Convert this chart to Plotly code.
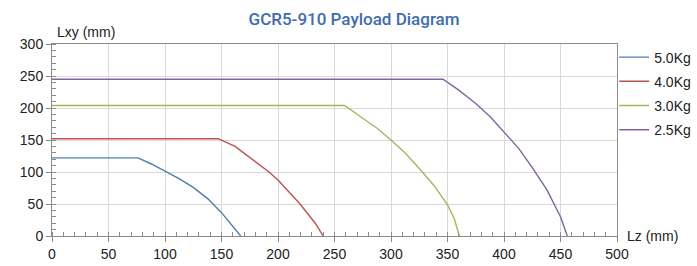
import plotly.graph_objects as go

# Data
series_names = ["5.0Kg", "4.0Kg", "3.0Kg", "2.5Kg"]
lz_50 = [0, 76, 88, 100, 112, 125, 138, 150, 160, 167]
lxy_50 = [122, 122, 112.5, 101.5, 90, 76, 58, 36.5, 15, 0]
lz_40 = [0, 147, 162, 175, 192, 200, 219.5, 233, 240]
lxy_40 = [152, 152, 140, 123, 100, 87.5, 50, 20, 0]
lz_30 = [0, 259, 275, 288, 300, 313, 325, 338, 350, 356, 360.5]
lxy_30 = [204, 204, 184, 168, 150, 129, 105.5, 79, 48.5, 27, 0]
lz_25 = [0, 346, 360, 375, 388, 400, 413, 425, 438, 450, 456]
lxy_25 = [245, 245, 228, 207, 186, 163, 137, 107, 72, 30, 0]
colors = ["#4a7ebb", "#c0504d", "#9bbb59", "#8064a2"]

x_ticks = [0, 50, 100, 150, 200, 250, 300, 350, 400, 450, 500]
y_ticks = [0, 50, 100, 150, 200, 250, 300]

xs = [lz_50, lz_40, lz_30, lz_25]
ys = [lxy_50, lxy_40, lxy_30, lxy_25]

fig = go.Figure()
for name, x, y, c in zip(series_names, xs, ys, colors):
    fig.add_trace(go.Scatter(x=x, y=y, mode="lines", name=name, legendgroup=name,
                             line=dict(color=c, width=1.4)))

FONT = "Liberation Sans, Arial, sans-serif"
axis_font = dict(family=FONT, size=14, color="#222")

fig.update_layout(
    width=697, height=266,
    margin=dict(l=52, r=80, t=44, b=30, autoexpand=False),
    paper_bgcolor="white", plot_bgcolor="white",
    title=dict(text="GCR5-910 Payload Diagram", x=0.508, xanchor="center",
               y=0.93, yanchor="middle",
               font=dict(family="Roboto, Noto Sans, sans-serif", size=17,
                         weight=500, color="#3d6cb3")),
    font=axis_font,
    showlegend=True,
    legend=dict(x=0.995, y=1.013, xanchor="left", yanchor="top",
                font=dict(family=FONT, size=14, color="#222"),
                traceorder="grouped", tracegroupgap=3, itemwidth=30,
                bgcolor="rgba(0,0,0,0)"),
    xaxis=dict(range=[0, 500], tickvals=x_ticks, ticktext=[str(v) for v in x_ticks],
               showgrid=True, gridcolor="#d9d9d9", gridwidth=1,
               showline=True, linecolor="#8c8c8c", linewidth=1, mirror=True,
               ticks="outside", ticklen=5, tickcolor="#8c8c8c",
               minor=dict(dtick=10, ticks="inside", ticklen=4, tickcolor="#8c8c8c", showgrid=False),
               zeroline=False, tickfont=axis_font, automargin=False),
    yaxis=dict(range=[0, 300], tickvals=y_ticks, ticktext=[str(v) for v in y_ticks],
               showgrid=True, gridcolor="#d9d9d9", gridwidth=1,
               showline=True, linecolor="#8c8c8c", linewidth=1, mirror=True,
               ticks="outside", ticklen=5, tickcolor="#8c8c8c",
               minor=dict(dtick=10, ticks="inside", ticklen=4, tickcolor="#8c8c8c", showgrid=False),
               zeroline=False, tickfont=axis_font, automargin=False),
    annotations=[
        dict(text="Lxy (mm)", xref="paper", yref="paper", x=0.005, y=1.0, yshift=12,
             xanchor="left", yanchor="middle", showarrow=False,
             font=dict(family=FONT, size=14, color="#222")),
        dict(text="Lz (mm)", xref="paper", yref="paper", x=1.0, y=0.0, xshift=8,
             xanchor="left", yanchor="middle", showarrow=False,
             font=dict(family=FONT, size=14, color="#222")),
    ],
)

fig.write_html("out.html", config={"displayModeBar": False},
               post_script="document.body.style.margin='0px';document.body.style.padding='0px';")
